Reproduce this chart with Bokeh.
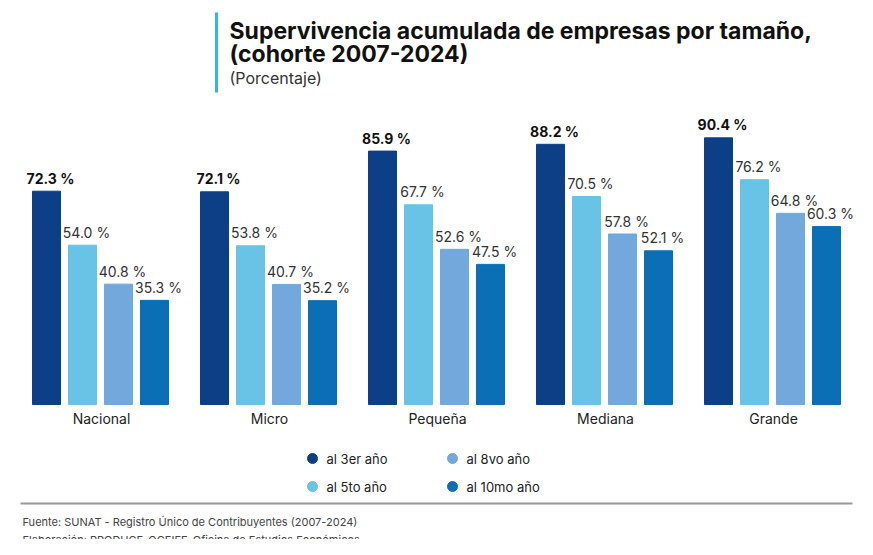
from bokeh.plotting import figure
from bokeh.models import Range1d, Label
from bokeh.embed import file_html
from bokeh.resources import INLINE

categories = ["Nacional", "Micro", "Pequeña", "Mediana", "Grande"]
series = ["al 3er año", "al 5to año", "al 8vo año", "al 10mo año"]
v3 = [72.3, 72.1, 85.9, 88.2, 90.4]
v5 = [54.0, 53.8, 67.7, 70.5, 76.2]
v8 = [40.8, 40.7, 52.6, 57.8, 64.8]
v10 = [35.3, 35.2, 47.5, 52.1, 60.3]
colors = ["#0d3f86", "#69c3e6", "#72a8dc", "#0b6fb6"]

W, H = 857, 539
PX = 2.95  # px per unit
BASE = 135  # screen px of baseline
p = figure(width=W, height=H, output_backend="svg", toolbar_location=None,
           x_range=Range1d(0, W), y_range=Range1d(-BASE / PX, (H - BASE) / PX),
           min_border=0, outline_line_color=None)
p.axis.visible = False
p.grid.visible = False
FONT = "Inter"

def sx(px): return px
def sy(py): return 539 - py
def dy(py): return (sy(py) - BASE) / PX

group_start = [32 + 168 * i for i in range(5)]
for k, vals in enumerate([v3, v5, v8, v10]):
    xs = [g + 14 + 36 * k for g in group_start]
    p.vbar(x=xs, top=vals, bottom=0, width=28, color=colors[k])
    for x, v in zip(xs, vals):
        p.add_layout(Label(x=x + 4, y=v + 1.5, text=f"{v:.1f} %", text_align="center",
                           text_baseline="bottom", text_font=FONT, text_font_size="14px",
                           text_font_style="bold" if k == 0 else "normal",
                           text_color="#111" if k == 0 else "#333"))
for g, c in zip(group_start, categories):
    p.add_layout(Label(x=g + 69, y=-14 / PX, text=c, text_align="center",
                       text_baseline="middle", text_font=FONT, text_font_size="14px",
                       text_color="#222"))

# title
p.segment(x0=[216], x1=[216], y0=[dy(12)], y1=[dy(92)], line_color="#33b5dc", line_width=3)
for t, py, sz, st in [("Supervivencia acumulada de empresas por tamaño,", 30, "23px", "bold"),
                      ("(cohorte 2007-2024)", 53, "23px", "bold"),
                      ("(Porcentaje)", 77, "16px", "normal")]:
    p.add_layout(Label(x=sx(229), y=sy(py), x_units="screen", y_units="screen", text=t,
                       text_baseline="middle", text_font=FONT, text_font_size=sz,
                       text_font_style=st, text_color="#111" if st == "bold" else "#333"))

# legend
pos = {0: (312, 458), 1: (312, 486), 2: (452, 458), 3: (452, 486)}
for k in range(4):
    px, py = pos[k]
    p.scatter(x=[px], y=[dy(py)], size=10, color=colors[k])
    p.add_layout(Label(x=sx(px + 14), y=sy(py), x_units="screen", y_units="screen",
                       text=series[k], text_baseline="middle", text_font=FONT,
                       text_font_size="13px", text_color="#222"))

p.segment(x0=[20], x1=[852], y0=[dy(503)], y1=[dy(503)], line_color="#9a9a9a", line_width=2)
for t, py in [("Fuente: SUNAT - Registro Único de Contribuyentes (2007-2024)", 521),
              ("Elaboración: PRODUCE-OGEIEE-Oficina de Estudios Económicos", 539)]:
    p.add_layout(Label(x=sx(22), y=sy(py), x_units="screen", y_units="screen", text=t,
                       text_baseline="middle", text_font=FONT, text_font_size="11px",
                       text_color="#444"))

open("out.html", "w").write(file_html(p, INLINE))
